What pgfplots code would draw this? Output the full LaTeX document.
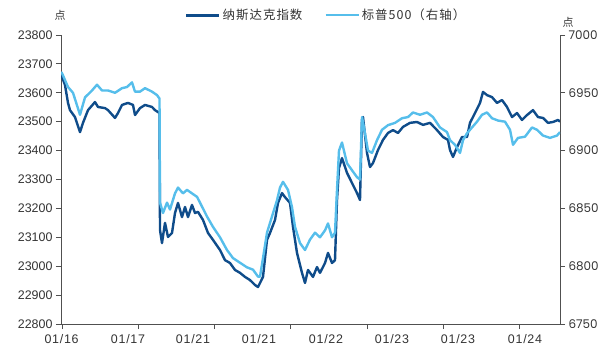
\documentclass[border=0pt]{standalone}
\usepackage{fontspec}
\setmainfont{Liberation Sans}
\newfontfamily\cjk{Noto Sans CJK SC}
\newfontfamily\rfont{Poppins}
\usepackage{pgfplots}
\usepackage{pgfplotstable}
\pgfplotsset{compat=1.18}
\definecolor{nasdaq}{HTML}{0F4C8A}
\definecolor{spx}{HTML}{56BEEB}
\definecolor{axisgray}{HTML}{505050}
\definecolor{txt}{HTML}{333333}

\pgfplotstableread{
x y
61 23662
62 23655
65 23627
68 23565
70 23540
75 23516
80 23464
83 23496
88 23540
95 23568
98 23551
105 23547
108 23540
115 23513
118 23530
122 23558
128 23565
133 23558
135 23523
140 23547
145 23558
152 23551
155 23540
159.5 23530
160 23125
162 23080
165 23150
168 23101
172 23115
175 23184
178 23219
182 23170
185 23205
188 23170
192 23212
195 23184
198 23188
203 23160
208 23115
213 23091
220 23056
225 23021
230 23011
235 22987
240 22977
245 22963
250 22952
255 22935
258 22928
260 22942
263 22963
267 23091
270 23115
275 23160
278 23219
282 23253
285 23239
290 23219
293 23136
297 23046
302 22977
305 22942
308 22987
313 22963
317 22997
320 22977
325 23011
328 23046
332 23011
335 23021
337 23229
339 23340
342 23374
347 23323
352 23288
357 23253
360 23229
362 23506
363 23516
367 23392
370 23343
373 23357
378 23402
383 23437
388 23461
393 23471
398 23461
403 23482
410 23496
417 23499
423 23489
430 23496
437 23471
443 23447
448 23437
450 23402
453 23378
457 23412
462 23447
467 23447
470 23496
475 23530
480 23565
483 23603
487 23592
492 23585
497 23565
502 23575
507 23551
512 23516
517 23530
522 23506
527 23523
533 23540
538 23516
543 23513
548 23496
553 23499
558 23506
560 23500
}\nasdaqdata

\pgfplotstableread{
x y
61 6968
62 6967
68 6955
73 6950
80 6931
85 6946
92 6952
97 6957
102 6952
108 6952
115 6950
122 6954
127 6955
132 6959
135 6951
140 6951
145 6954
152 6951
157 6948
159.5 6945
160 6855
163 6846
167 6855
170 6849
175 6863
178 6868
183 6863
187 6866
192 6863
197 6860
200 6855
207 6843
213 6834
220 6825
227 6814
233 6807
240 6803
247 6799
253 6797
258 6791
260 6791
263 6807
267 6829
272 6843
277 6857
280 6868
283 6873
288 6866
292 6851
295 6834
300 6820
305 6814
310 6823
315 6829
320 6825
325 6831
328 6837
332 6825
335 6829
337 6866
339 6900
342 6907
347 6889
352 6883
357 6877
360 6875
362 6929
365 6915
368 6900
372 6898
377 6909
382 6918
388 6922
395 6924
402 6928
408 6929
413 6933
420 6931
427 6933
433 6929
440 6920
447 6916
450 6909
455 6905
460 6898
463 6909
467 6915
472 6920
477 6925
482 6931
487 6933
492 6928
498 6926
505 6925
510 6918
513 6905
518 6911
525 6912
532 6920
537 6918
543 6913
550 6911
557 6913
560 6916
}\spxdata

\begin{document}
\begin{tikzpicture}
\pgfplotsset{
  base/.style={
    scale only axis, width=499bp, height=289bp,
    xmin=61, xmax=560,
    scaled y ticks=false,
    /pgf/number format/assume math mode=true,
    /pgf/number format/set thousands separator={},
    tick align=outside,
    major tick length=5bp,
    tick style={axisgray, line width=0.8bp},
    axis line style={axisgray, line width=0.8bp, -},
    ticklabel style={color=txt},
  }
}
\begin{axis}[base, name=ax,
  ymin=22800, ymax=23800,
  ytick={22800,22900,...,23800},
  axis x line*=bottom, axis y line*=left,
  xtick={62,138,214,290.5,367,443,519},
  xticklabels={},
  extra x ticks={61.6,128,193,259,326,392,458,525},
  extra x tick labels={01/16,01/17,01/21,01/21,01/22,01/23,01/23,01/24},
  extra x tick style={major tick length=0pt, tick style={draw=none},
    xticklabel style={font=\addfontfeature{LetterSpace=6}\fontsize{12.5}{14}\selectfont, yshift=-7bp}},
  yticklabel style={font=\fontsize{12.5}{14}\selectfont},
]
\addplot[nasdaq, line width=2.4bp, line join=round] table[x=x,y=y] {\nasdaqdata};
\end{axis}
\begin{axis}[base,
  ymin=6750, ymax=7000,
  ytick={6750,6800,...,7000},
  axis y line*=right, axis x line=none,
  yticklabel style={font=\rfont\fontsize{12}{14}\selectfont},
  legend columns=2,
  legend style={at={(0.531,1.069)}, anchor=center, draw=none, fill=none,
    font=\cjk\addfontfeature{LetterSpace=8}\fontsize{12.5}{14}\selectfont, text=txt,
    /tikz/every even column/.append style={column sep=20bp}},
  legend image code/.code={\draw[#1] (0bp,0bp) -- (33bp,0bp);},
]
\addlegendimage{nasdaq, line width=3bp}
\addlegendentry{纳斯达克指数}
\addplot[spx, line width=2.4bp, line join=round] table[x=x,y=y] {\spxdata};
\addlegendentry{标普500（右轴）}
\end{axis}
\node[font=\cjk\fontsize{11}{12}\selectfont, text=txt] at ([xshift=-1bp,yshift=20bp]ax.north west) {点};
\node[font=\cjk\fontsize{11}{12}\selectfont, text=txt] at ([xshift=8bp,yshift=13bp]ax.north east) {点};
\path ([xshift=-61bp,yshift=-27bp]ax.south west) rectangle ([xshift=49bp,yshift=35bp]ax.north east);
\end{tikzpicture}
\end{document}
